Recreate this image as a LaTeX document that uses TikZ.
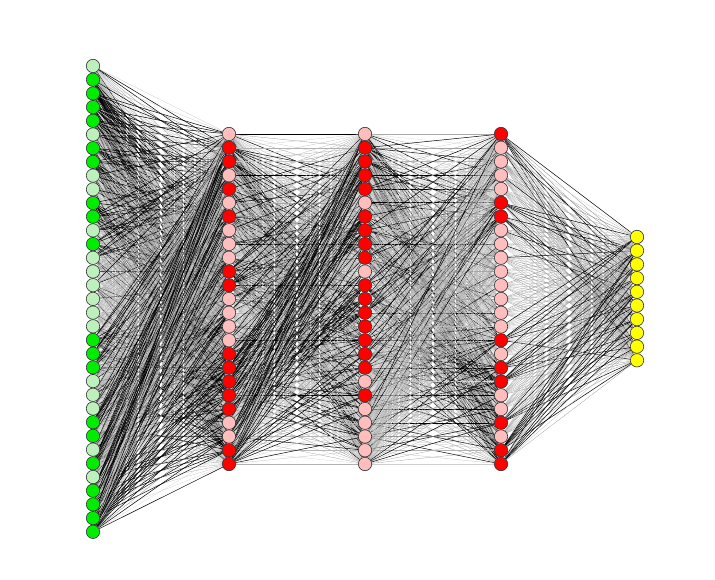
\documentclass[tikz,border=0pt]{standalone}
\usetikzlibrary{backgrounds}
\definecolor{lgreen}{RGB}{190,240,190}
\definecolor{dgreen}{RGB}{0,236,0}
\definecolor{pinkc}{RGB}{255,190,190}
\definecolor{redc}{RGB}{255,0,0}
\definecolor{yel}{RGB}{255,255,0}
\begin{document}
\begin{tikzpicture}[x=1pt,y=-1pt,
  neuron/.style={circle,draw=black!80,line width=0.6pt,minimum size=13.4pt,inner sep=0pt},
  darkconn/.style={line width=0.5pt,draw=black},
  lightconn/.style={line width=0.28pt}]
\useasboundingbox (0,0) rectangle (715,580);
\pgfmathsetseed{7}
\def\LA{{0,1,1,1,1,0,1,1,0,0,1,1,0,1,0,0,0,0,0,0,1,1,1,0,0,0,1,1,0,1,0,1,1,1,1}}
\def\LB{{0,1,1,0,1,0,1,0,0,0,1,1,0,0,0,0,1,1,1,1,1,0,0,1,1}}
\def\LC{{0,1,1,1,1,0,1,1,1,1,0,1,1,1,1,1,1,1,0,1,0,0,0,0,0}}
\def\LD{{1,0,0,0,0,1,1,0,0,0,0,0,0,0,0,1,0,1,1,0,0,1,0,1,1}}
% layer 1
\foreach \i in {0,...,34} {
  \pgfmathtruncatemacro\c{\LA[\i]}
  \ifnum\c=1 \def\fc{dgreen}\else\def\fc{lgreen}\fi
  \node[neuron,fill=\fc] (a\i) at (93,{66+13.7*\i}) {};
}
% layer 2
\foreach \i in {0,...,24} {
  \pgfmathtruncatemacro\c{\LB[\i]}
  \ifnum\c=1 \def\fc{redc}\else\def\fc{pinkc}\fi
  \node[neuron,fill=\fc] (b\i) at (229,{134+13.75*\i}) {};
}
% layer 3
\foreach \i in {0,...,24} {
  \pgfmathtruncatemacro\c{\LC[\i]}
  \ifnum\c=1 \def\fc{redc}\else\def\fc{pinkc}\fi
  \node[neuron,fill=\fc] (c\i) at (365,{134+13.75*\i}) {};
}
% layer 4
\foreach \i in {0,...,24} {
  \pgfmathtruncatemacro\c{\LD[\i]}
  \ifnum\c=1 \def\fc{redc}\else\def\fc{pinkc}\fi
  \node[neuron,fill=\fc] (d\i) at (501,{134+13.75*\i}) {};
}
% layer 5
\foreach \i in {0,...,9} {
  \node[neuron,fill=yel] (e\i) at (637,{237+13.7*\i}) {};
}
\begin{pgfonlayer}{background}
\foreach \i in {0,...,34} {
  \pgfmathtruncatemacro\s{\LA[\i]}
  \foreach \j in {0,...,24} {
    \pgfmathtruncatemacro\t{\LB[\j]}
    \pgfmathtruncatemacro\k{rnd<0.1+0.3*\s+0.12*\t}
    \pgfmathtruncatemacro\p{15+30*rnd}
    \ifnum\k=1 \draw[darkconn] (a\i) -- (b\j);
    \else \draw[lightconn,draw=black!\p] (a\i) -- (b\j); \fi
  }
}
\foreach \i in {0,...,24} {
  \pgfmathtruncatemacro\s{\LB[\i]}
  \foreach \j in {0,...,24} {
    \pgfmathtruncatemacro\t{\LC[\j]}
    \pgfmathtruncatemacro\k{rnd<0.08+0.28*\s+0.14*\t}
    \pgfmathtruncatemacro\p{15+30*rnd}
    \ifnum\k=1 \draw[darkconn] (b\i) -- (c\j);
    \else \draw[lightconn,draw=black!\p] (b\i) -- (c\j); \fi
  }
}
\foreach \i in {0,...,24} {
  \pgfmathtruncatemacro\s{\LC[\i]}
  \foreach \j in {0,...,24} {
    \pgfmathtruncatemacro\t{\LD[\j]}
    \pgfmathtruncatemacro\k{rnd<0.04+0.15*\s+0.22*\t}
    \pgfmathtruncatemacro\p{15+30*rnd}
    \ifnum\k=1 \draw[darkconn] (c\i) -- (d\j);
    \else \draw[lightconn,draw=black!\p] (c\i) -- (d\j); \fi
  }
}
\foreach \i in {0,...,24} {
  \pgfmathtruncatemacro\s{\LD[\i]}
  \foreach \j in {0,...,9} {
    \pgfmathtruncatemacro\k{rnd<0.08+0.45*\s}
    \pgfmathtruncatemacro\p{20+30*rnd}
    \ifnum\k=1 \draw[darkconn] (d\i) -- (e\j);
    \else \draw[lightconn,draw=black!\p] (d\i) -- (e\j); \fi
  }
}
\end{pgfonlayer}
\end{tikzpicture}
\end{document}
